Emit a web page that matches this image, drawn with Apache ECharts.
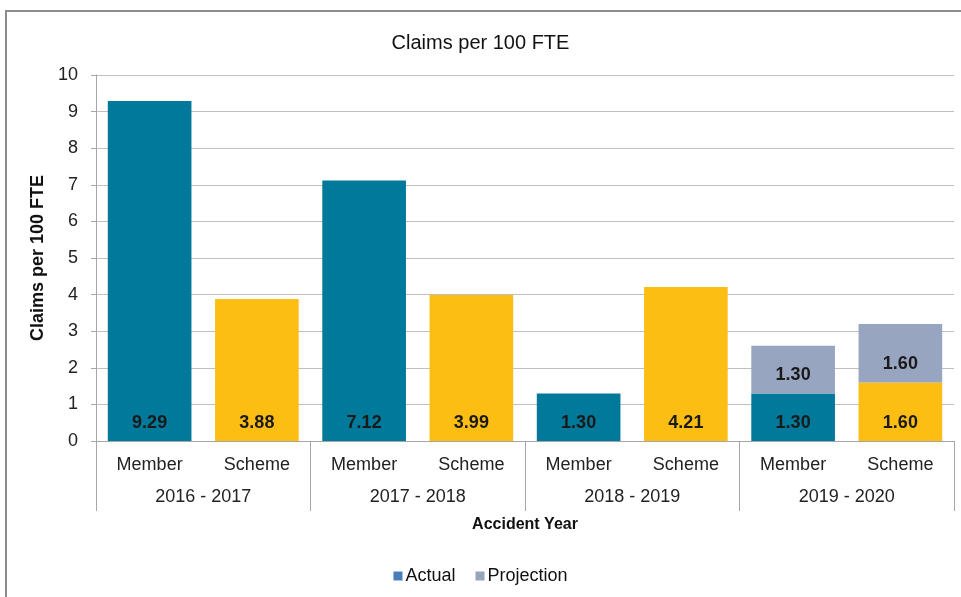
<!DOCTYPE html>
<html>
<head>
<meta charset="utf-8">
<script src="https://cdn.jsdelivr.net/npm/echarts@6/dist/echarts.min.js"></script>
<style>
  html, body { margin: 0; padding: 0; background: #fff; }
  #chart { width: 961px; height: 597px; }
</style>
</head>
<body>
<div id="chart"></div>
<script>
// categories
const entities = ['Member', 'Scheme', 'Member', 'Scheme', 'Member', 'Scheme', 'Member', 'Scheme']
const years = ['2016 - 2017', '2017 - 2018', '2018 - 2019', '2019 - 2020']
// values
const actual = [9.29, 3.88, 7.12, 3.99, 1.30, 4.21, 1.30, 1.60]
const projection = [null, null, null, null, null, null, 1.30, 1.60]

const MEMBER = '#00799A'
const SCHEME = '#FDBE14'
const PROJ = '#98A5C1'
const FONT = '"Liberation Sans", Arial, sans-serif'

const chart = echarts.init(document.getElementById('chart'))

const valueLabel = {
  show: true,
  position: 'insideBottom',
  distance: 9,
  fontFamily: FONT,
  fontSize: 18,
  fontWeight: 'bold',
  color: '#1a1a1a',
  formatter: (p) => (p.value == null ? '' : p.value.toFixed(2)),
}

const option = {
  backgroundColor: '#fff',
  animation: false,
  textStyle: { fontFamily: FONT },
  title: {
    text: 'Claims per 100 FTE',
    left: 'center',
    top: 28,
    textStyle: { fontFamily: FONT, fontSize: 20, fontWeight: 'normal', color: '#111' },
  },
  graphic: [
    {
      type: 'rect',
      shape: { x: 6, y: 11, width: 1000, height: 700 },
      style: { fill: 'none', stroke: '#8c8c8c', lineWidth: 2 },
      silent: true,
    },
  ],
  legend: {
    bottom: 7,
    left: 'center',
    icon: 'rect',
    itemWidth: 9,
    itemHeight: 9,
    itemGap: 20,
    textStyle: { fontFamily: FONT, fontSize: 18, color: '#111', padding: [0, 0, 0, -2] },
    data: [
      { name: 'Actual', itemStyle: { color: '#4A7EBB' } },
      { name: 'Projection', itemStyle: { color: PROJ } },
    ],
  },
  grid: { left: 96, right: 7, top: 75, bottom: 156 },
  xAxis: [
    {
      type: 'category',
      data: entities,
      position: 'bottom',
      axisLine: { show: true, lineStyle: { color: '#a6a6a6', width: 1 } },
      axisTick: { show: false },
      axisLabel: { fontFamily: FONT, fontSize: 18, color: '#222', margin: 15, interval: 0 },
    },
    {
      type: 'category',
      data: years,
      position: 'bottom',
      axisLine: { show: false },
      axisTick: { show: true, length: 70, lineStyle: { color: '#a6a6a6' } },
      axisLabel: { fontFamily: FONT, fontSize: 18, color: '#222', margin: 47, interval: 0 },
      name: 'Accident Year',
      nameLocation: 'middle',
      nameGap: 76,
      nameTextStyle: { fontFamily: FONT, fontSize: 16, fontWeight: 'bold', color: '#111' },
    },
  ],
  yAxis: {
    type: 'value',
    min: 0,
    max: 10,
    interval: 1,
    name: 'Claims per 100 FTE',
    nameLocation: 'middle',
    nameGap: 45,
    nameTextStyle: { fontFamily: FONT, fontSize: 18, fontWeight: 'bold', color: '#111' },
    axisLine: { show: true, lineStyle: { color: '#a6a6a6' } },
    axisTick: { show: true, length: 5, lineStyle: { color: '#a6a6a6' } },
    axisLabel: { fontFamily: FONT, fontSize: 18, color: '#222', margin: 18 },
    splitLine: { lineStyle: { color: '#bfbfbf', width: 1 } },
  },
  series: [
    {
      name: 'Actual',
      type: 'bar',
      stack: 'total',
      xAxisIndex: 0,
      barCategoryGap: '22%',
      data: actual.map((v, i) => ({
        value: v,
        itemStyle: { color: i % 2 === 0 ? MEMBER : SCHEME },
      })),
      label: valueLabel,
    },
    {
      name: 'Projection',
      type: 'bar',
      stack: 'total',
      xAxisIndex: 0,
      data: projection,
      itemStyle: { color: PROJ },
      label: valueLabel,
    },
  ],
}

chart.setOption(option)
</script>
</body>
</html>
